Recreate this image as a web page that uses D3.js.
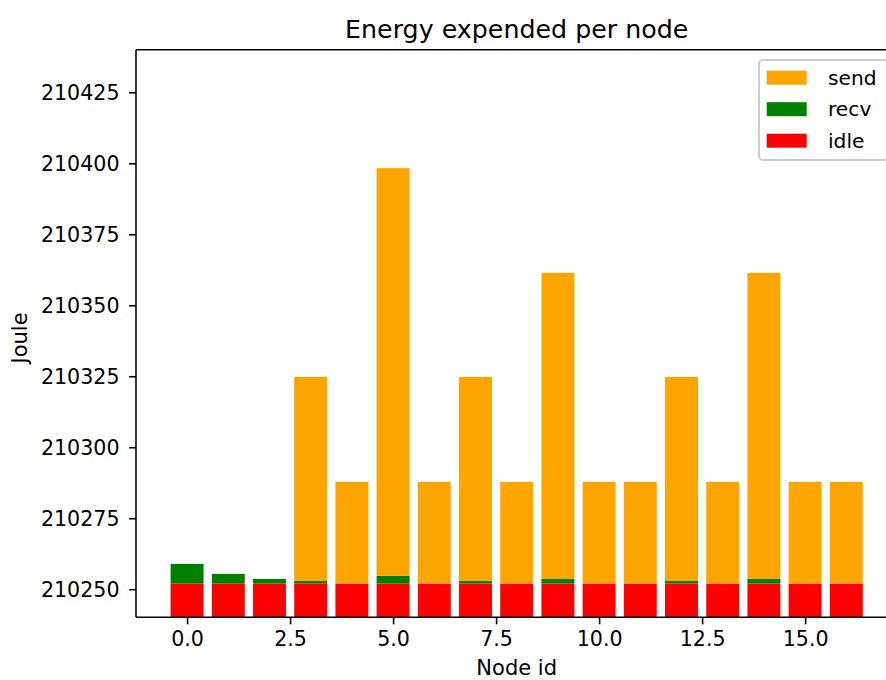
<!DOCTYPE html>
<html>
<head>
<meta charset="utf-8">
<script src="https://cdn.jsdelivr.net/npm/d3@7"></script>
<style>
  body { margin: 0; background: #fff; }
  svg { display: block; font-family: "DejaVu Sans", sans-serif; }
</style>
</head>
<body>
<svg id="chart" width="886" height="680"></svg>
<script>
const nodes = [0, 1, 2, 3, 4, 5, 6, 7, 8, 9, 10, 11, 12, 13, 14, 15, 16];
const idle = [210252, 210252, 210252, 210252, 210252, 210252, 210252, 210252, 210252, 210252, 210252, 210252, 210252, 210252, 210252, 210252, 210252];
const recv = [6.9, 3.4, 1.6, 0.9, 0, 2.7, 0, 0.9, 0, 1.6, 0, 0, 0.9, 0, 1.6, 0, 0];
const send = [0, 0, 0, 71.85, 35.8, 143.6, 35.8, 71.85, 35.8, 107.8, 35.8, 35.8, 71.85, 35.8, 107.8, 35.8, 35.8];
const xTicks = [0, 2.5, 5, 7.5, 10, 12.5, 15];
const yTicks = [210250, 210275, 210300, 210325, 210350, 210375, 210400, 210425];
const seriesNames = ["send", "recv", "idle"];
const seriesColors = {send: "#ffa500", recv: "#008000", idle: "#ff0000"};
const title = "Energy expended per node";
const xLabel = "Node id";
const yLabel = "Joule";

const svg = d3.select("#chart");
const L = 136, R = 897.4, T = 49.7, B = 617.3;
const x = d3.scaleLinear().domain([-1.24, 17.24]).range([L, R]);
const y = d3.scaleLinear().domain([210240.1, 210440]).range([B, T]);
const barW = 0.8;

svg.append("defs").append("clipPath").attr("id", "plotclip")
  .append("rect").attr("x", L).attr("y", T).attr("width", R - L).attr("height", B - T);

const plot = svg.append("g").attr("clip-path", "url(#plotclip)");

const rows = nodes.map((n, i) => ({n, idle: idle[i], recv: recv[i], send: send[i]}));

plot.selectAll("rect.idle").data(rows).enter().append("rect")
  .attr("x", d => x(d.n - barW / 2))
  .attr("width", d => x(d.n + barW / 2) - x(d.n - barW / 2))
  .attr("y", d => y(d.idle))
  .attr("height", d => y(0) - y(d.idle))
  .attr("fill", seriesColors.idle);

plot.selectAll("rect.recv").data(rows.filter(d => d.recv > 0)).enter().append("rect")
  .attr("x", d => x(d.n - barW / 2))
  .attr("width", d => x(d.n + barW / 2) - x(d.n - barW / 2))
  .attr("y", d => y(d.idle + d.recv))
  .attr("height", d => y(d.idle) - y(d.idle + d.recv))
  .attr("fill", seriesColors.recv);

plot.selectAll("rect.send").data(rows.filter(d => d.send > 0)).enter().append("rect")
  .attr("x", d => x(d.n - barW / 2))
  .attr("width", d => x(d.n + barW / 2) - x(d.n - barW / 2))
  .attr("y", d => y(d.idle + d.recv + d.send))
  .attr("height", d => y(d.idle + d.recv) - y(d.idle + d.recv + d.send))
  .attr("fill", seriesColors.send);

const xAxis = d3.axisBottom(x).tickValues(xTicks).tickFormat(d3.format(".1f")).tickSize(7).tickPadding(7).tickSizeOuter(0);
const yAxis = d3.axisLeft(y).tickValues(yTicks).tickFormat(d3.format("d")).tickSize(7).tickPadding(9.5).tickSizeOuter(0);

const gx = svg.append("g").attr("transform", `translate(0,${B})`).call(xAxis);
const gy = svg.append("g").attr("transform", `translate(${L},0)`).call(yAxis);
[gx, gy].forEach(g => {
  g.select(".domain").remove();
  g.selectAll(".tick line").attr("stroke", "#000").attr("stroke-width", 1.6);
  g.selectAll(".tick text").attr("fill", "#000").attr("font-size", 20.6).attr("font-family", "DejaVu Sans, sans-serif");
});
gy.selectAll(".tick text").attr("dy", "0.35em");

const sp = svg.append("g").attr("stroke", "#000").attr("stroke-width", 1.6).attr("fill", "none");
sp.append("line").attr("x1", L).attr("x2", L).attr("y1", T).attr("y2", B);
sp.append("line").attr("x1", L).attr("x2", R).attr("y1", B).attr("y2", B);
sp.append("line").attr("x1", L).attr("x2", R).attr("y1", T).attr("y2", T);
sp.append("line").attr("x1", R).attr("x2", R).attr("y1", T).attr("y2", B);

svg.append("text").attr("x", (L + R) / 2).attr("y", 37.5).attr("text-anchor", "middle")
  .attr("font-size", 25.3).attr("fill", "#000").text(title);
svg.append("text").attr("x", (L + R) / 2).attr("y", 675).attr("text-anchor", "middle")
  .attr("font-size", 21).attr("fill", "#000").text(xLabel);
svg.append("text").attr("transform", `translate(27,338) rotate(-90)`).attr("text-anchor", "middle")
  .attr("font-size", 21).attr("fill", "#000").text(yLabel);

const lg = svg.append("g");
lg.append("rect").attr("x", 759).attr("y", 60).attr("width", 129).attr("height", 100).attr("rx", 4)
  .attr("fill", "#fff").attr("fill-opacity", 0.8).attr("stroke", "#cccccc").attr("stroke-width", 2);
seriesNames.forEach((s, i) => {
  const cy = 77.7 + i * 31.5;
  lg.append("rect").attr("x", 766.7).attr("y", cy - 7).attr("width", 40).attr("height", 14).attr("fill", seriesColors[s]);
  lg.append("text").attr("x", 828).attr("y", cy + 7).attr("font-size", 20.2).attr("fill", "#000").text(s);
});
</script>
</body>
</html>
